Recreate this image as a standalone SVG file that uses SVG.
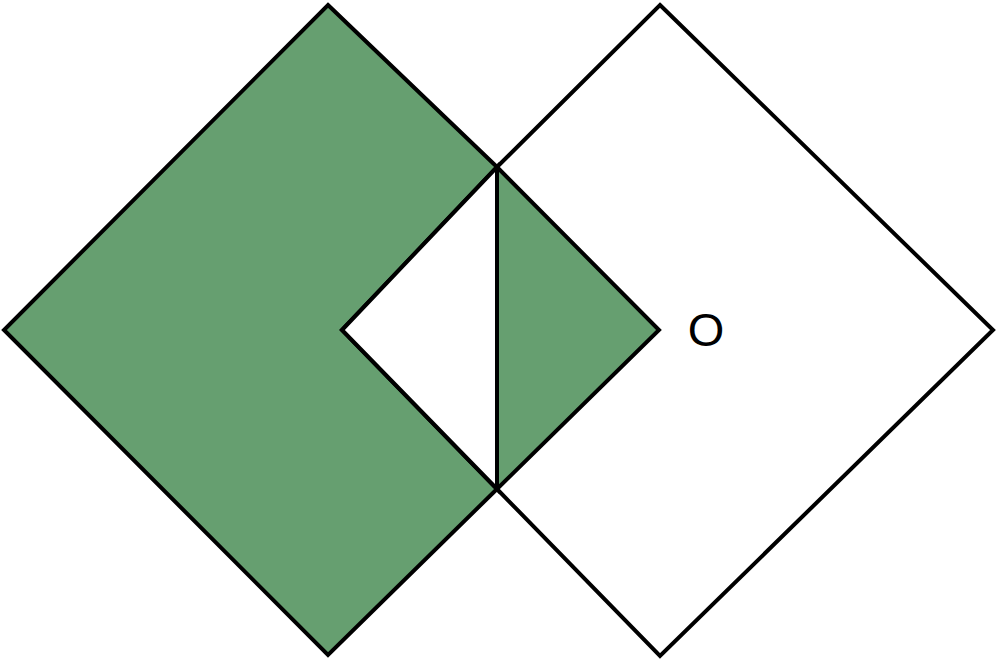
<svg xmlns="http://www.w3.org/2000/svg" width="997" height="661" viewBox="0 0 997 661">
  <style>
    .edge { stroke: #000; stroke-width: 4; stroke-linejoin: miter; stroke-miterlimit: 10; }
    .green { fill: #669f70; }
    .white { fill: #ffffff; }
    .label { font-family: "Liberation Sans", Arial, sans-serif; font-size: 47px; fill: #000; }
  </style>
  <rect width="997" height="661" fill="#ffffff"/>
  <g id="left-square">
    <polygon class="green edge" points="328,5 497,167 659,330 497,489 328,655 4,330"/>
  </g>
  <g id="right-square">
    <polygon class="edge" fill="none" points="660,5 993,330 660,656 497,489 342,330 497,167"/>
  </g>
  <g id="inner-triangle">
    <polygon class="white edge" points="342,330 497,167 497,489"/>
  </g>
  <g id="connectors">
    <line class="edge" x1="497" y1="167" x2="497" y2="489"/>
  </g>
  <g id="label-O">
    <text class="label" x="706" y="346" text-anchor="middle">O</text>
  </g>
</svg>
